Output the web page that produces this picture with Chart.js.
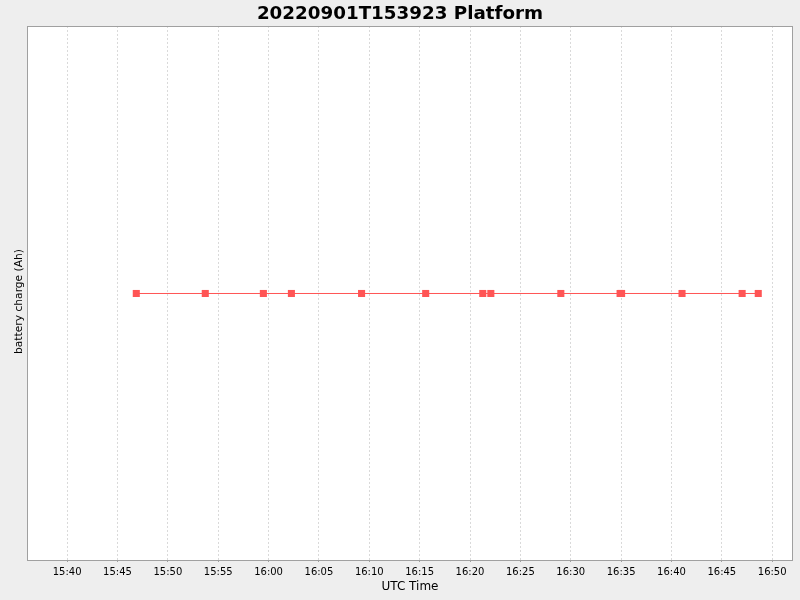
<!DOCTYPE html>
<html>
<head>
<meta charset="utf-8">
<script src="https://cdn.jsdelivr.net/npm/chart.js@4.4.0/dist/chart.umd.min.js"></script>
<style>
html,body{margin:0;padding:0;background:#eeeeee;}
#wrap{width:800px;height:600px;}
</style>
</head>
<body>
<div id="wrap"><canvas id="c" width="800" height="600"></canvas></div>
<script>
// Sample times (UTC, 2022-09-01)
const times = ["15:46:52","15:53:43","15:59:29","16:02:16","16:09:14","16:15:36","16:21:16","16:22:04","16:29:01","16:34:54","16:35:03","16:41:03","16:47:01","16:48:37"];
// battery charge (Ah) – constant reading
const charge = [10,10,10,10,10,10,10,10,10,10,10,10,10,10];
// x tick labels
const tickLabels = ["15:40","15:45","15:50","15:55","16:00","16:05","16:10","16:15","16:20","16:25","16:30","16:35","16:40","16:45","16:50"];
const axisStart = "15:36:01";
const axisEnd = "16:52:04";
const yTitle = "battery charge (Ah)";

function toMin(s){const p=s.split(":").map(Number);return (p[0]-15)*60+p[1]+(p[2]||0)/60;}
function fmt(v){const h=15+Math.floor(v/60);const m=Math.round(v-(h-15)*60);return h+":"+String(m).padStart(2,"0");}

const pts = times.map((t,i)=>({x:toMin(t),y:charge[i]}));
const tickVals = tickLabels.map(toMin);

const bgPlugin = {
  id:'bg',
  beforeDraw(chart){
    const {ctx,chartArea:a}=chart;
    ctx.save();
    ctx.fillStyle='#eeeeee';ctx.fillRect(0,0,chart.width,chart.height);
    ctx.fillStyle='#ffffff';ctx.fillRect(a.left,a.top,a.right-a.left,a.bottom-a.top);
    ctx.restore();
  },
  afterDraw(chart){
    const {ctx,chartArea:a}=chart;
    ctx.save();
    ctx.strokeStyle='#a0a0a0';ctx.lineWidth=1;
    ctx.strokeRect(Math.round(a.left)+0.5,Math.round(a.top)+0.5,Math.round(a.right-a.left)-1,Math.round(a.bottom-a.top));
    // y axis title
    ctx.fillStyle='#000';
    ctx.font='10.7px "DejaVu Sans"';
    ctx.textAlign='center';ctx.textBaseline='middle';
    ctx.translate(19.5,(a.top+a.bottom)/2+8.5);
    ctx.rotate(-Math.PI/2);
    ctx.fillText(yTitle,0,0);
    ctx.restore();
  }
};

new Chart(document.getElementById('c'),{
  type:'line',
  data:{datasets:[{
    data:pts,
    borderColor:'#ff5555',
    backgroundColor:'#ff5555',
    borderWidth:1,
    pointStyle:'rect',
    pointRadius:5,
    pointBorderWidth:0,
    tension:0
  }]},
  options:{
    responsive:false,
    animation:false,
    layout:{padding:0},
    plugins:{
      legend:{display:false},
      tooltip:{enabled:false},
      title:{display:true,text:'20220901T153923 Platform',color:'#000',
        font:{family:'DejaVu Sans',size:18.3,weight:'bold'},padding:{top:3.5,bottom:0.5}}
    },
    scales:{
      x:{
        type:'linear',
        min:toMin(axisStart),max:toMin(axisEnd),
        afterBuildTicks(s){s.ticks=tickVals.map(v=>({value:v}));},
        ticks:{callback:(v)=>fmt(v),color:'#000',font:{family:'DejaVu Sans',size:10},padding:4,maxRotation:0,autoSkip:false},
        grid:{color:'#d9d9d9',lineWidth:1,drawTicks:true,tickLength:2,tickColor:'#a0a0a0',tickBorderDash:[]},
        border:{display:false,dash:[2,2]},
        title:{display:true,text:'UTC Time',color:'#000',font:{family:'DejaVu Sans',size:12},padding:{top:0,bottom:6}},
        afterFit(s){s.height=40;}
      },
      y:{
        min:9,max:11.0038,
        ticks:{display:false},
        grid:{display:false},
        border:{display:false},
        afterFit(s){s.width=27;}
      },
      yRight:{
        position:'right',
        ticks:{display:false},
        grid:{display:false},
        border:{display:false},
        afterFit(s){s.width=7;}
      }
    }
  },
  plugins:[bgPlugin]
});
</script>
</body>
</html>
